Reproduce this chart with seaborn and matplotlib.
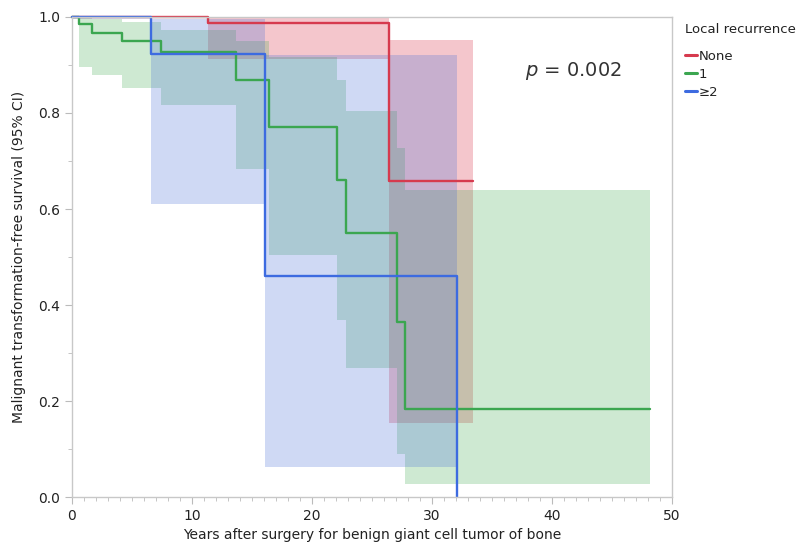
import numpy as np
import pandas as pd
import seaborn as sns
import matplotlib.pyplot as plt
from matplotlib.ticker import MultipleLocator
from matplotlib.lines import Line2D

# Kaplan-Meier step data (years, survival, 95% CI)
none_t = [0, 11.3, 26.4, 33.4]
none_s = [1.0, 0.988, 0.658, 0.658]
none_hi = [1.0, 1.0, 0.952, 0.952]
none_lo = [1.0, 0.912, 0.155, 0.155]

one_t = [0, 0.6, 1.7, 4.2, 7.4, 13.7, 16.4, 22.1, 22.8, 27.1, 27.75, 48.2]
one_s = [1.0, 0.985, 0.967, 0.949, 0.928, 0.869, 0.771, 0.660, 0.551, 0.365, 0.183, 0.183]
one_hi = [1.0, 0.998, 0.996, 0.99, 0.973, 0.95, 0.917, 0.869, 0.804, 0.727, 0.64, 0.64]
one_lo = [1.0, 0.896, 0.88, 0.853, 0.817, 0.683, 0.504, 0.369, 0.268, 0.09, 0.027, 0.027]

two_t = [0, 6.55, 16.1, 32.05]
two_s = [1.0, 0.922, 0.46, 0.0]
two_hi = [1.0, 0.995, 0.921, 0.0]
two_lo = [1.0, 0.61, 0.0625, 0.0]

groups = ['None', '1', '≥2']
line_colors = ['#D63A4E', '#3BA650', '#3D6BE0']
fill_colors = ['#D41F37', '#3FAB4F', '#436BD6']

series = [(none_t, none_s, none_hi, none_lo),
          (one_t, one_s, one_hi, one_lo),
          (two_t, two_s, two_hi, two_lo)]

frames = []
for g, (t, s, hi, lo) in zip(groups, series):
    frames.append(pd.DataFrame({'years': t, 'surv': s, 'group': g}))
df = pd.concat(frames, ignore_index=True)

sns.set_style("white")
plt.rcParams['font.family'] = ['DejaVu Sans']

fig = plt.figure(figsize=(7.98, 5.43), dpi=100, facecolor='white')
ax = fig.add_axes([0.0902, 0.0847, 0.7518, 0.884])

# confidence bands
for (t, s, hi, lo), fc in zip(series, fill_colors):
    ax.fill_between(t, lo, hi, step='post', color=fc, alpha=0.25, linewidth=0)

# survival curves
sns.lineplot(data=df, x='years', y='surv', hue='group', hue_order=groups,
             palette=dict(zip(groups, line_colors)), drawstyle='steps-post',
             estimator=None, sort=False, linewidth=1.7, legend=False, ax=ax)
for ln in ax.lines:
    ln.set_clip_on(False)

ax.set_xlim(0, 50)
ax.set_ylim(0, 1.0)
ax.xaxis.set_major_locator(MultipleLocator(10))
ax.xaxis.set_minor_locator(MultipleLocator(1))
ax.yaxis.set_major_locator(MultipleLocator(0.2))
ax.yaxis.set_minor_locator(MultipleLocator(0.1))
ax.yaxis.set_major_formatter(plt.FuncFormatter(lambda v, p: f'{v:.1f}'))
ax.tick_params(which='both', direction='out', color='#BBBBBB',
               labelsize=10, labelcolor='#222222', left=True, bottom=True)
ax.tick_params(which='major', length=5)
ax.tick_params(which='minor', length=3)
for sp in ax.spines.values():
    sp.set_color('#C8C8C8')
    sp.set_linewidth(1.0)

ax.set_xlabel('Years after surgery for benign giant cell tumor of bone',
              fontsize=10, color='#222222', labelpad=4)
ax.set_ylabel('Malignant transformation-free survival (95% CI)',
              fontsize=10, color='#222222', labelpad=9)

ax.text(37.75, 0.888, '$p$ = 0.002', fontsize=14, color='#333333',
        ha='left', va='center')

handles = [Line2D([], [], color=c, linewidth=2.2) for c in line_colors]
leg = fig.legend(handles, groups, title='Local recurrence', loc='upper left',
                 bbox_to_anchor=(0.852, 0.968), frameon=False, fontsize=9.5,
                 title_fontsize=9.5, handlelength=0.9, handletextpad=0.15,
                 labelspacing=0.4, borderaxespad=0)
leg._legend_box.align = 'left'
leg._legend_box.sep = 10
for txt in leg.get_texts():
    txt.set_color('#222222')
leg.get_title().set_color('#222222')

plt.savefig('out.png', dpi=100, facecolor='white')
